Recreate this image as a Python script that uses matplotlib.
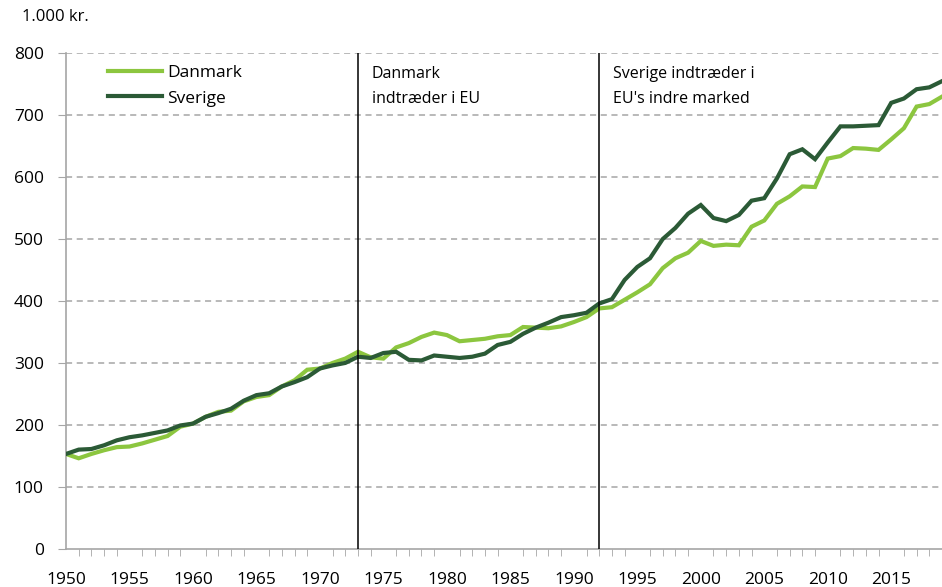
import matplotlib.pyplot as plt
import numpy as np

plt.rcParams['font.family'] = ['Open Sans', 'DejaVu Sans']

years = np.arange(1950, 2020)

# 1.000 kr. pr. indbygger
danmark = [153, 146, 153, 159, 164, 165, 170, 176, 182, 197,
           202, 213, 221, 223, 238, 245, 248, 262, 272, 289,
           291, 300, 307, 318, 309, 307, 325, 332, 342, 349,
           345, 335, 337, 339, 343, 345, 358, 357, 356, 359,
           366, 374, 388, 390, 402, 414, 427, 453, 469, 478,
           497, 489, 491, 490, 520, 530, 557, 569, 585, 584,
           630, 634, 647, 646, 644, 661, 679, 714, 718, 730]
sverige = [153, 160, 161, 167, 175, 180, 183, 187, 191, 199,
           202, 213, 219, 226, 239, 248, 251, 262, 269, 277,
           291, 296, 300, 310, 308, 316, 318, 305, 304, 312,
           310, 308, 310, 315, 329, 334, 347, 357, 365, 374,
           377, 381, 396, 403, 434, 455, 469, 500, 518, 541,
           555, 534, 529, 539, 562, 566, 598, 637, 645, 629,
           656, 682, 682, 683, 684, 720, 727, 742, 745, 755]

events = [1973, 1992]
event_labels = ['Danmark\nindtræder i EU', "Sverige indtræder i\nEU's indre marked"]

fig = plt.figure(figsize=(9.42, 5.87), dpi=100)
ax = fig.add_axes([66 / 942, 1 - 548.7 / 587, 1 - 66 / 942, (548.7 - 53.3) / 587])

light = '#8cc63f'
dark = '#2b5a36'
grid_c = '#a6a6a6'

for yv in range(100, 801, 100):
    ax.axhline(yv, color=grid_c, lw=1.1, ls=(0, (4, 3)), zorder=0)

ax.plot(years, danmark, color=light, lw=3, label='Danmark', zorder=3, solid_joinstyle='miter')
ax.plot(years, sverige, color=dark, lw=3, label='Sverige', zorder=3, solid_joinstyle='miter')

for yr, txt in zip(events, event_labels):
    ax.axvline(yr, color='black', lw=1.1, zorder=4)
    ax.text(yr + 1.1, 780, txt, fontsize=11.5, va='top', ha='left', linespacing=1.75)

ax.set_xlim(1950, 2019)
ax.set_ylim(0, 800)
ax.set_xticks(np.arange(1950, 2016, 5))
ax.set_xticks(np.arange(1950, 2019), minor=True)
ax.set_yticks(np.arange(0, 801, 100))

for s in ['top', 'right']:
    ax.spines[s].set_visible(False)
for s in ['left', 'bottom']:
    ax.spines[s].set_color(grid_c)
    ax.spines[s].set_linewidth(1.2)

ax.tick_params(axis='x', which='major', length=0, pad=17, labelsize=12.5)
ax.tick_params(axis='x', which='minor', length=5, color=grid_c, direction='out')
ax.tick_params(axis='y', length=6, color=grid_c, pad=10, labelsize=12.5)

leg = ax.legend(loc='upper left', bbox_to_anchor=(0.048, 0.977), frameon=False,
                borderpad=0, borderaxespad=0,
                fontsize=12.5, handlelength=3.1, handletextpad=0.3, labelspacing=0.55)

fig.text(22 / 942, 1 - 17 / 587, '1.000 kr.', fontsize=12, va='center', ha='left')

fig.savefig('out.png', dpi=100)
